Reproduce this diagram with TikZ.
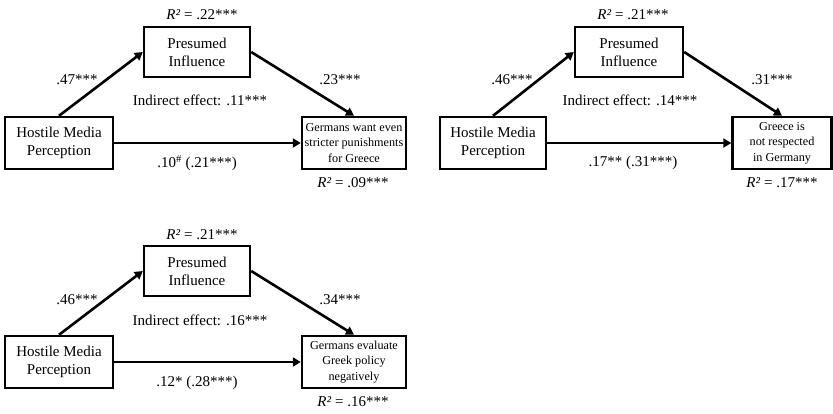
\documentclass[tikz,border=0pt]{standalone}
\usepackage{fontspec}
\setmainfont{Liberation Serif}
\usetikzlibrary{arrows.meta}

\tikzset{
  var/.style={draw, line width=2.4pt, align=center, inner sep=1pt,
    font=\fontsize{15}{18}\selectfont},
  outvar/.style={var, font=\fontsize{12.2}{15.5}\selectfont},
  coef/.style={font=\fontsize{15}{18}\selectfont},
  path/.style={line width=2.6pt, -{Triangle[length=8pt,width=9pt]}}
}

\begin{document}
\begin{tikzpicture}[x=1pt, y=-1pt]
\useasboundingbox (0,0) rectangle (833,413);

% panel 1
\node[var, minimum width=108, minimum height=52] (hmpA) at (59,143) {Hostile Media\\Perception};
\node[var, minimum width=106, minimum height=50] (piA) at (197,52) {Presumed\\Influence};
\node[outvar, minimum width=104, minimum height=52] (outA) at (354,143) {Germans want even\\stricter punishments\\for Greece};
\draw[path] (hmpA.north) -- (piA.west);
\draw[path] (piA.east) -- (outA.north);
\draw[path] (hmpA) -- (outA);
\node[coef] (rpiA) at (202,15) {\textit{R²} = .22***};
\node[coef] (rA) at (353,183) {\textit{R²} = .09***};
\node[coef] (aA) at (77,80) {.47***};
\node[coef] (bA) at (340,80) {.23***};
\node[coef] (indA) at (200,100) {Indirect effect: .11***};
\node[coef] (cA) at (197,163) {.10\textsuperscript{\#} (.21***)};

% panel 2
\node[var, minimum width=106, minimum height=52] (hmpB) at (493,143) {Hostile Media\\Perception};
\node[var, minimum width=108, minimum height=50] (piB) at (629,52) {Presumed\\Influence};
\node[outvar, minimum width=99, minimum height=52] (outB) at (782,143) {Greece is\\not respected\\in Germany};
\draw[path] (hmpB.north) -- (piB.west);
\draw[path] (piB.east) -- (outB.north);
\draw[path] (hmpB) -- (outB);
\node[coef] (rpiB) at (633,15) {\textit{R²} = .21***};
\node[coef] (rB) at (782,183) {\textit{R²} = .17***};
\node[coef] (aB) at (512,80) {.46***};
\node[coef] (bB) at (772,80) {.31***};
\node[coef] (indB) at (630,100) {Indirect effect: .14***};
\node[coef] (cB) at (633,163) {.17** (.31***)};

% panel 3
\node[var, minimum width=108, minimum height=52] (hmpC) at (59,362) {Hostile Media\\Perception};
\node[var, minimum width=106, minimum height=50] (piC) at (197,271) {Presumed\\Influence};
\node[outvar, minimum width=104, minimum height=52] (outC) at (354,362) {Germans evaluate\\Greek policy\\negatively};
\draw[path] (hmpC.north) -- (piC.west);
\draw[path] (piC.east) -- (outC.north);
\draw[path] (hmpC) -- (outC);
\node[coef] (rpiC) at (202,235) {\textit{R²} = .21***};
\node[coef] (rC) at (353,402) {\textit{R²} = .16***};
\node[coef] (aC) at (77,300) {.46***};
\node[coef] (bC) at (340,300) {.34***};
\node[coef] (indC) at (200,320) {Indirect effect: .16***};
\node[coef] (cC) at (197,383) {.12* (.28***)};

\end{tikzpicture}
\end{document}
